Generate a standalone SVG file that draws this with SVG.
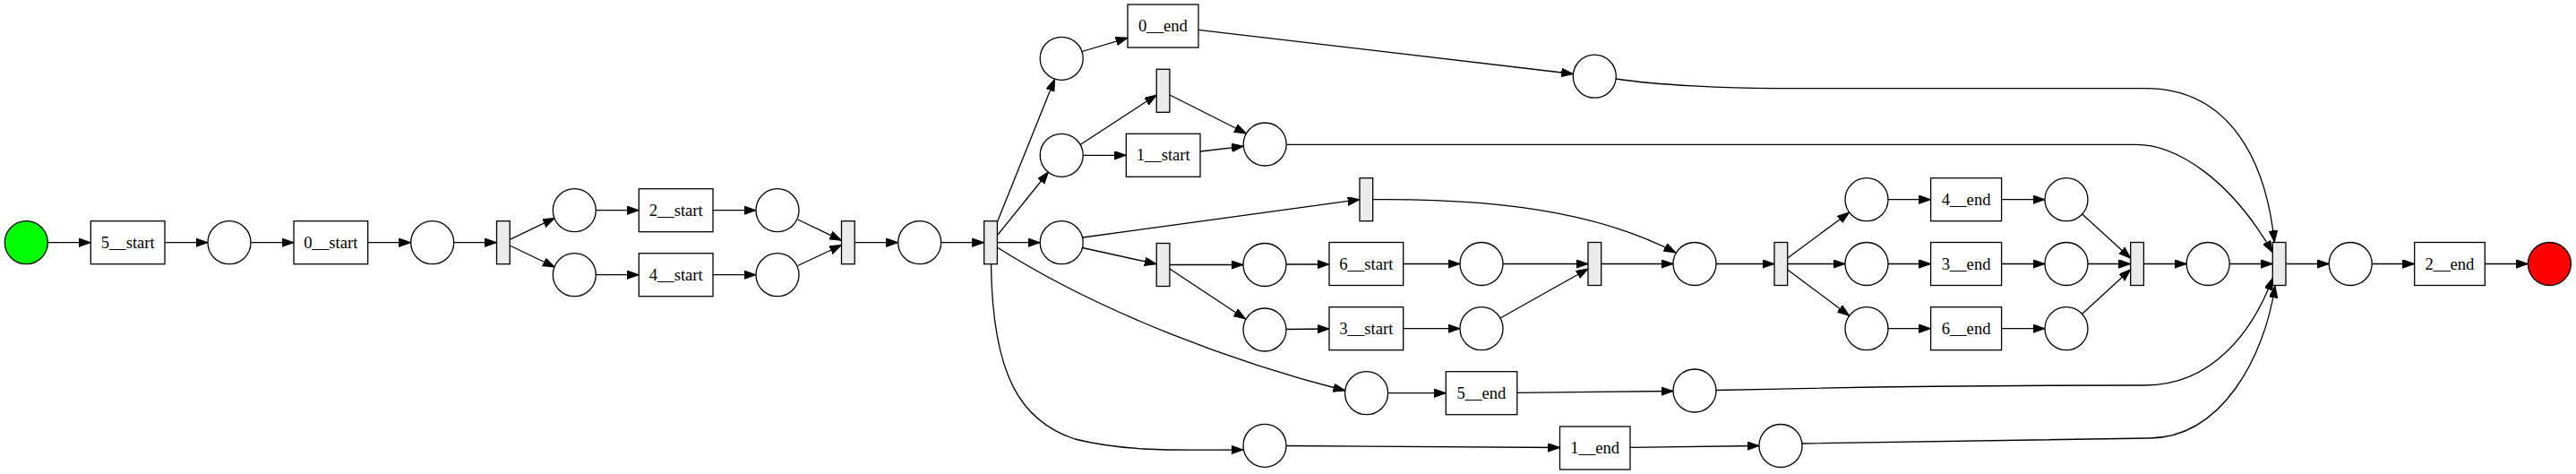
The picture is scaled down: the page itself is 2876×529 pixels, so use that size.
<svg xmlns="http://www.w3.org/2000/svg" width="2876" height="529" viewBox="0 0 2876 529">
<style>
.pl{fill:#fff;stroke:#000;stroke-width:1.3}
.tr{fill:#fff;stroke:#000;stroke-width:1.3}
.br{fill:#ebebeb;stroke:#000;stroke-width:1.3}
.lb{font-family:"Liberation Serif","Times New Roman",serif;font-size:18.67px;text-anchor:middle;fill:#000}
.e{fill:none;stroke:#000;stroke-width:1.3;marker-end:url(#ah)}
</style>
<defs>
<marker id="ah" markerWidth="16" markerHeight="12" refX="13.3" refY="4.7" orient="auto" markerUnits="userSpaceOnUse">
<path d="M0,0 L13.3,4.7 L0,9.4 z" fill="#000" stroke="#000" stroke-width="1"/>
</marker>
</defs>
<rect width="2876" height="529" fill="#fff"/>
<g id="connectors">
<path class="e" d="M53.3,270.7 L101.3,270.7"/>
<path class="e" d="M184,270.7 L232,270.7"/>
<path class="e" d="M280,270.7 L328,270.7"/>
<path class="e" d="M410.7,270.7 L458.7,270.7"/>
<path class="e" d="M506.7,270.7 L554.5,270.7"/>
<path class="e" d="M569.2,267.3 L619.3,243.3"/>
<path class="e" d="M569.2,274 L619.3,298"/>
<path class="e" d="M665.3,234.7 L713.3,234.7"/>
<path class="e" d="M665.3,306.7 L713.3,306.7"/>
<path class="e" d="M796,234.7 L844,234.7"/>
<path class="e" d="M796,306.7 L844,306.7"/>
<path class="e" d="M890.7,245 L939.5,268.3"/>
<path class="e" d="M890.7,296.5 L939.5,273.5"/>
<path class="e" d="M954.2,270.7 L1002.7,270.7"/>
<path class="e" d="M1050.7,270.7 L1098.7,270.7"/>
<path class="e" d="M1113.3,248 L1177.5,88.5"/>
<path class="e" d="M1114,262 L1170.5,192"/>
<path class="e" d="M1113.3,270.7 L1161.2,270.7"/>
<path class="e" d="M1113.3,276 C1230,350 1380,405 1501.8,436"/>
<path class="e" d="M1106.5,294.7 C1108,420 1140,470 1200,490 C1260,505 1320,502 1388,502"/>
<path class="e" d="M1208,57.5 L1259,42.3"/>
<path class="e" d="M1338,33.3 L1756.5,82.5"/>
<path class="e" d="M1206,161.5 L1291.2,106"/>
<path class="e" d="M1209.2,173.3 L1257.3,173.3"/>
<path class="e" d="M1306,106 L1391.5,149"/>
<path class="e" d="M1340,169 L1388.3,163.3"/>
<path class="e" d="M1436.2,161.3 L2385,161.3 C2430,161.3 2490,200 2537.3,281.7"/>
<path class="e" d="M1804.3,88 C1850,95 1930,98.7 1980,98.7 L2395,98.7 C2490,98.7 2530,180 2539.3,270.5"/>
<path class="e" d="M1209,265 L1518,222.7"/>
<path class="e" d="M1208.5,276.5 L1291.2,294.7"/>
<path class="e" d="M1532.7,222.7 C1700,221 1800,245 1871,282"/>
<path class="e" d="M1305.9,295.5 L1388,295.5"/>
<path class="e" d="M1305.9,300 L1390.5,356"/>
<path class="e" d="M1436,295 L1484,295"/>
<path class="e" d="M1436,367.5 L1484,367"/>
<path class="e" d="M1566.7,294.5 L1630,294.5"/>
<path class="e" d="M1566.7,366.7 L1630,366.7"/>
<path class="e" d="M1678,294.5 L1773,294.5"/>
<path class="e" d="M1675,355 L1773,300"/>
<path class="e" d="M1787.7,294.5 L1868,294.5"/>
<path class="e" d="M1916,294.5 L1981,294.5"/>
<path class="e" d="M1995.7,288 L2064.7,237"/>
<path class="e" d="M1995.7,294.5 L2060,294.5"/>
<path class="e" d="M1995.7,301 L2064.7,352.4"/>
<path class="e" d="M2108,222.7 L2155.6,222.7"/>
<path class="e" d="M2108,294.5 L2155.6,294.5"/>
<path class="e" d="M2108,366.7 L2155.6,366.7"/>
<path class="e" d="M2234.7,222.7 L2283,222.7"/>
<path class="e" d="M2234.7,294.5 L2283,294.5"/>
<path class="e" d="M2234.7,366.7 L2283,366.7"/>
<path class="e" d="M2324.7,238.9 L2378.7,288.3"/>
<path class="e" d="M2331,294.5 L2378.7,294.5"/>
<path class="e" d="M2324.7,350.3 L2378.7,300.7"/>
<path class="e" d="M2393.4,294.5 L2441.2,294.5"/>
<path class="e" d="M2489.2,294.5 L2537.3,294.5"/>
<path class="e" d="M2552,294.5 L2600.2,294.5"/>
<path class="e" d="M2648.2,294.5 L2695.7,294.5"/>
<path class="e" d="M2774.3,294.5 L2822.4,294.5"/>
<path class="e" d="M1549.6,438.7 L1614.3,438.7"/>
<path class="e" d="M1693.8,438.3 L1868,436.5"/>
<path class="e" d="M1916,435.5 C2100,431 2250,430 2395,430 C2470,430 2515,370 2537.3,310.5"/>
<path class="e" d="M1436,497.5 L1741.5,499.5"/>
<path class="e" d="M1820,499.3 L1964,497.5"/>
<path class="e" d="M2012,495 L2400,489 C2480,488 2528,400 2540,319"/>
</g>
<g id="source"><circle cx="29.3" cy="270.7" r="24" fill="#00ff00" stroke="#000" stroke-width="1.3"/></g>
<g id="t_5_start"><rect class="tr" x="101.3" y="246.7" width="82.7" height="48"/><text class="lb" x="142.7" y="276.7">5__start</text></g>
<g id="p1"><circle class="pl" cx="256" cy="270.7" r="24"/></g>
<g id="t_0_start"><rect class="tr" x="328" y="246.7" width="82.7" height="48"/><text class="lb" x="369.3" y="276.7">0__start</text></g>
<g id="p2"><circle class="pl" cx="482.7" cy="270.7" r="24"/></g>
<g id="b1"><rect class="br" x="554.5" y="246.7" width="14.7" height="48"/></g>
<g id="pA"><circle class="pl" cx="641.3" cy="234.7" r="24"/></g>
<g id="pB"><circle class="pl" cx="641.3" cy="306.7" r="24"/></g>
<g id="t_2_start"><rect class="tr" x="713.3" y="210.7" width="82.7" height="48"/><text class="lb" x="754.7" y="240.7">2__start</text></g>
<g id="t_4_start"><rect class="tr" x="713.3" y="282.7" width="82.7" height="48"/><text class="lb" x="754.7" y="312.7">4__start</text></g>
<g id="pC"><circle class="pl" cx="868" cy="234.7" r="24"/></g>
<g id="pD"><circle class="pl" cx="868" cy="306.7" r="24"/></g>
<g id="b2"><rect class="br" x="939.5" y="246.7" width="14.7" height="48"/></g>
<g id="pE"><circle class="pl" cx="1026.7" cy="270.7" r="24"/></g>
<g id="b3"><rect class="br" x="1098.7" y="246.7" width="14.7" height="48"/></g>
<g id="pF"><circle class="pl" cx="1185.2" cy="65.3" r="24"/></g>
<g id="t_0_end"><rect class="tr" x="1259" y="5" width="79" height="48"/><text class="lb" x="1298.5" y="35">0__end</text></g>
<g id="pG"><circle class="pl" cx="1185.2" cy="173.3" r="24"/></g>
<g id="b4"><rect class="br" x="1291.2" y="77.3" width="14.7" height="48"/></g>
<g id="t_1_start"><rect class="tr" x="1257.3" y="149.3" width="82.7" height="48"/><text class="lb" x="1298.7" y="179.3">1__start</text></g>
<g id="pH"><circle class="pl" cx="1412.2" cy="161" r="24"/></g>
<g id="pJ"><circle class="pl" cx="1780.3" cy="85.2" r="24"/></g>
<g id="pI"><circle class="pl" cx="1185.2" cy="270.7" r="24"/></g>
<g id="b5"><rect class="br" x="1518" y="198.7" width="14.7" height="48"/></g>
<g id="b6"><rect class="br" x="1291.2" y="271.5" width="14.7" height="48"/></g>
<g id="pK"><circle class="pl" cx="1412" cy="295.5" r="24"/></g>
<g id="pL"><circle class="pl" cx="1412" cy="368" r="24"/></g>
<g id="t_6_start"><rect class="tr" x="1484" y="270.5" width="82.7" height="48"/><text class="lb" x="1525.3" y="300.5">6__start</text></g>
<g id="t_3_start"><rect class="tr" x="1484" y="342.7" width="82.7" height="48"/><text class="lb" x="1525.3" y="372.7">3__start</text></g>
<g id="pW"><circle class="pl" cx="1654" cy="294.5" r="24"/></g>
<g id="pX"><circle class="pl" cx="1654" cy="366.7" r="24"/></g>
<g id="b7"><rect class="br" x="1773" y="270.5" width="14.7" height="48"/></g>
<g id="pR"><circle class="pl" cx="1892" cy="294.5" r="24"/></g>
<g id="b8"><rect class="br" x="1981" y="270.5" width="14.7" height="48"/></g>
<g id="pS1"><circle class="pl" cx="2084" cy="222.7" r="24"/></g>
<g id="pS2"><circle class="pl" cx="2084" cy="294.5" r="24"/></g>
<g id="pS3"><circle class="pl" cx="2084" cy="366.7" r="24"/></g>
<g id="t_4_end"><rect class="tr" x="2155.6" y="198.7" width="79" height="48"/><text class="lb" x="2195.1" y="228.7">4__end</text></g>
<g id="t_3_end"><rect class="tr" x="2155.6" y="270.5" width="79" height="48"/><text class="lb" x="2195.1" y="300.5">3__end</text></g>
<g id="t_6_end"><rect class="tr" x="2155.6" y="342.7" width="79" height="48"/><text class="lb" x="2195.1" y="372.7">6__end</text></g>
<g id="pT1"><circle class="pl" cx="2307" cy="222.7" r="24"/></g>
<g id="pT2"><circle class="pl" cx="2307" cy="294.5" r="24"/></g>
<g id="pT3"><circle class="pl" cx="2307" cy="366.7" r="24"/></g>
<g id="b9"><rect class="br" x="2378.7" y="270.5" width="14.7" height="48"/></g>
<g id="pP"><circle class="pl" cx="2465.2" cy="294.5" r="24"/></g>
<g id="bF"><rect class="br" x="2537.3" y="270.5" width="14.7" height="48"/></g>
<g id="pQ"><circle class="pl" cx="2624.2" cy="294.5" r="24"/></g>
<g id="t_2_end"><rect class="tr" x="2695.7" y="270.5" width="78.6" height="48"/><text class="lb" x="2735" y="300.5">2__end</text></g>
<g id="sink"><circle cx="2846.4" cy="294.5" r="24" fill="#ff0000" stroke="#000" stroke-width="1.3"/></g>
<g id="pM"><circle class="pl" cx="1525.6" cy="438.7" r="24"/></g>
<g id="t_5_end"><rect class="tr" x="1614.3" y="414.7" width="79.5" height="48"/><text class="lb" x="1654" y="444.7">5__end</text></g>
<g id="pU"><circle class="pl" cx="1892" cy="436" r="24"/></g>
<g id="pN"><circle class="pl" cx="1412" cy="497.3" r="24"/></g>
<g id="t_1_end"><rect class="tr" x="1741.5" y="476" width="78.5" height="48"/><text class="lb" x="1780.7" y="506">1__end</text></g>
<g id="pV"><circle class="pl" cx="1988" cy="497.5" r="24"/></g>
</svg>
